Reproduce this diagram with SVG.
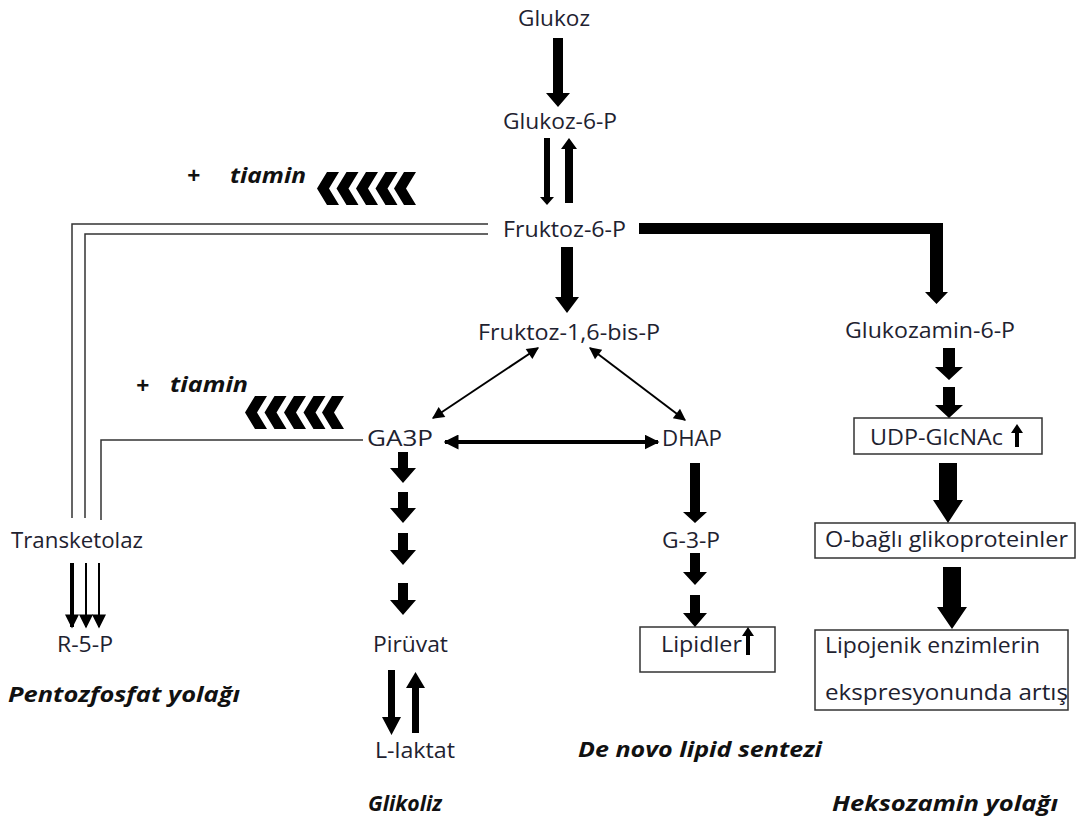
<svg xmlns="http://www.w3.org/2000/svg" width="1087" height="823" viewBox="0 0 1087 823">
<style>
text{font-family:"Open Sans","Noto Sans","Liberation Sans",sans-serif;font-size:21px;fill:#1e2230}
.t{font-weight:bold;font-style:italic;font-size:22px;fill:#111}
.p{font-size:23px}
.blk{fill:#000}
.gl{fill:none;stroke:#333;stroke-width:1.5}
.box{fill:#fff;stroke:#333;stroke-width:1.5}
.da{stroke:#000;fill:none}
</style>
<defs>
<marker id="ah" viewBox="0 0 10 10" refX="9" refY="5" markerUnits="userSpaceOnUse" markerWidth="14" markerHeight="12" orient="auto-start-reverse"><path d="M0,0 L10,5 L0,10 z" fill="#000"/></marker>
<marker id="ahb" viewBox="0 0 10 10" refX="9" refY="5" markerUnits="userSpaceOnUse" markerWidth="15" markerHeight="15" orient="auto-start-reverse"><path d="M0,0 L10,5 L0,10 z" fill="#000"/></marker>
<marker id="ahs" viewBox="0 0 10 10" refX="9" refY="5" markerUnits="userSpaceOnUse" markerWidth="15" markerHeight="14" orient="auto"><path d="M0,0 L10,5 L0,10 z" fill="#000"/></marker>
<polygon id="chev" points="0,16.5 10,0 22,0 12,16.5 22,33 10,33"/>
</defs>

<g id="boxes">
<rect class="box" x="854" y="418" width="188" height="36"/>
<rect class="box" x="815" y="523" width="260" height="35"/>
<rect class="box" x="815" y="630" width="253" height="80"/>
<rect class="box" x="640" y="627" width="135" height="45"/>
</g>

<g id="connectors">
<polygon class="blk" points="553,38 563,38 563,93 570,93 558,107 546,93 553,93"/>
<polygon class="blk" points="544,138 550,138 550,197 554,197 547,205 540,197 544,197"/>
<polygon class="blk" points="565,203 573,203 573,149 577,149 569,138 561,149 565,149"/>
<polygon class="blk" points="561,247 573,247 573,297 579,297 567,313 555,297 561,297"/>
<polygon class="blk" points="639,223 943,223 943,292 948,292 936.5,304 925,292 930,292 930,234 639,234"/>
<polygon class="blk" points="943,348 955,348 955,367 963,367 949,380 935,367 943,367"/>
<polygon class="blk" points="943,387 955,387 955,405 963,405 949,418 935,405 943,405"/>
<polygon class="blk" points="939,463 957,463 957,500 963,500 948,523 933,500 939,500"/>
<polygon class="blk" points="943,567 961,567 961,607 967,607 952,629 937,607 943,607"/>
<polygon class="blk" points="1015,447 1019,447 1019,433 1023,433 1017,424 1011,433 1015,433"/>
<polygon class="blk" points="746,655 750,655 750,636 754,636 748,627 742,636 746,636"/>

<polygon class="blk" points="398,452 408,452 408,468 416,468 403,483 390,468 398,468"/>
<polygon class="blk" points="398,492 408,492 408,508 416,508 403,523 390,508 398,508"/>
<polygon class="blk" points="398,533 408,533 408,550 416,550 403,565 390,550 398,550"/>
<polygon class="blk" points="398,583 408,583 408,600 416,600 403,615 390,600 398,600"/>
<polygon class="blk" points="388,670 395,670 395,717 401,717 391.5,735 382,717 388,717"/>
<polygon class="blk" points="412,733 419,733 419,688 425,688 415.5,672 406,688 412,688"/>

<polygon class="blk" points="690,463 700,463 700,512 707,512 695,523 683,512 690,512"/>
<polygon class="blk" points="690,553 700,553 700,572 707,572 695,585 683,572 690,572"/>
<polygon class="blk" points="690,595 700,595 700,613 707,613 695,627 683,613 690,613"/>

<line class="da" stroke-width="2" x1="538" y1="348" x2="433" y2="418" marker-start="url(#ah)" marker-end="url(#ah)"/>
<line class="da" stroke-width="2" x1="590" y1="348" x2="685" y2="420" marker-start="url(#ah)" marker-end="url(#ah)"/>
<line class="da" stroke-width="4" x1="445" y1="442" x2="658" y2="442" marker-start="url(#ahb)" marker-end="url(#ahb)"/>

<path class="gl" d="M488,224 H72 V518"/>
<path class="gl" d="M488,234 H85 V518"/>
<path class="gl" d="M363,440 H101 V520"/>

<line class="da" stroke-width="4" x1="72" y1="563" x2="72" y2="627" marker-end="url(#ahs)"/>
<line class="da" stroke-width="2" x1="86" y1="563" x2="86" y2="627" marker-end="url(#ahs)"/>
<line class="da" stroke-width="2" x1="99" y1="563" x2="99" y2="627" marker-end="url(#ahs)"/>
</g>

<g id="chevrons1" class="blk">
<use href="#chev" x="317" y="172"/>
<use href="#chev" x="336.5" y="172"/>
<use href="#chev" x="356" y="172"/>
<use href="#chev" x="375.5" y="172"/>
<use href="#chev" x="394" y="172"/>
</g>
<g id="chevrons2" class="blk">
<use href="#chev" x="245" y="396"/>
<use href="#chev" x="264.5" y="396"/>
<use href="#chev" x="284" y="396"/>
<use href="#chev" x="303.5" y="396"/>
<use href="#chev" x="322" y="396"/>
</g>

<g id="n-glukoz"><text x="518" y="26" textLength="72" lengthAdjust="spacingAndGlyphs">Glukoz</text></g>
<g id="n-g6p"><text x="503" y="129" textLength="114" lengthAdjust="spacingAndGlyphs">Glukoz-6-P</text></g>
<g id="n-f6p"><text x="503" y="237" textLength="123" lengthAdjust="spacingAndGlyphs">Fruktoz-6-P</text></g>
<g id="n-f16bp"><text x="478" y="340" textLength="182" lengthAdjust="spacingAndGlyphs">Fruktoz-1,6-bis-P</text></g>
<g id="n-gln6p"><text x="845" y="338" textLength="170" lengthAdjust="spacingAndGlyphs">Glukozamin-6-P</text></g>
<g id="n-udp"><text x="870" y="445" textLength="133" lengthAdjust="spacingAndGlyphs">UDP-GlcNAc</text></g>
<g id="n-obagli"><text x="825" y="547" textLength="243" lengthAdjust="spacingAndGlyphs">O-bağlı glikoproteinler</text></g>
<g id="n-lipo"><text x="825" y="653" textLength="215" lengthAdjust="spacingAndGlyphs">Lipojenik enzimlerin</text><text x="825" y="700" textLength="243" lengthAdjust="spacingAndGlyphs">ekspresyonunda artış</text></g>
<g id="n-ga3p"><text x="367" y="446" textLength="66" lengthAdjust="spacingAndGlyphs">GA3P</text></g>
<g id="n-dhap"><text x="662" y="446" textLength="60" lengthAdjust="spacingAndGlyphs">DHAP</text></g>
<g id="n-g3p"><text x="662" y="548" textLength="58" lengthAdjust="spacingAndGlyphs">G-3-P</text></g>
<g id="n-lipidler"><text x="661" y="652" textLength="81" lengthAdjust="spacingAndGlyphs">Lipidler</text></g>
<g id="n-transketolaz"><text x="11" y="548" textLength="132" lengthAdjust="spacingAndGlyphs">Transketolaz</text></g>
<g id="n-r5p"><text x="57" y="652" textLength="56" lengthAdjust="spacingAndGlyphs">R-5-P</text></g>
<g id="n-piruvat"><text x="373" y="652" textLength="75" lengthAdjust="spacingAndGlyphs">Pirüvat</text></g>
<g id="n-laktat"><text x="375" y="758" textLength="80" lengthAdjust="spacingAndGlyphs">L-laktat</text></g>

<g id="labels">
<text class="t p" x="187" y="184">+</text>
<text class="t" x="230" y="183" textLength="76" lengthAdjust="spacingAndGlyphs">tiamin</text>
<text class="t p" x="136" y="394">+</text>
<text class="t" x="170" y="392" textLength="78" lengthAdjust="spacingAndGlyphs">tiamin</text>
<text class="t" x="8" y="702" textLength="232" lengthAdjust="spacingAndGlyphs">Pentozfosfat yolağı</text>
<text class="t" x="368" y="811" textLength="74" lengthAdjust="spacingAndGlyphs">Glikoliz</text>
<text class="t" x="578" y="757" textLength="244" lengthAdjust="spacingAndGlyphs">De novo lipid sentezi</text>
<text class="t" x="832" y="811" textLength="226" lengthAdjust="spacingAndGlyphs">Heksozamin yolağı</text>
</g>
</svg>
